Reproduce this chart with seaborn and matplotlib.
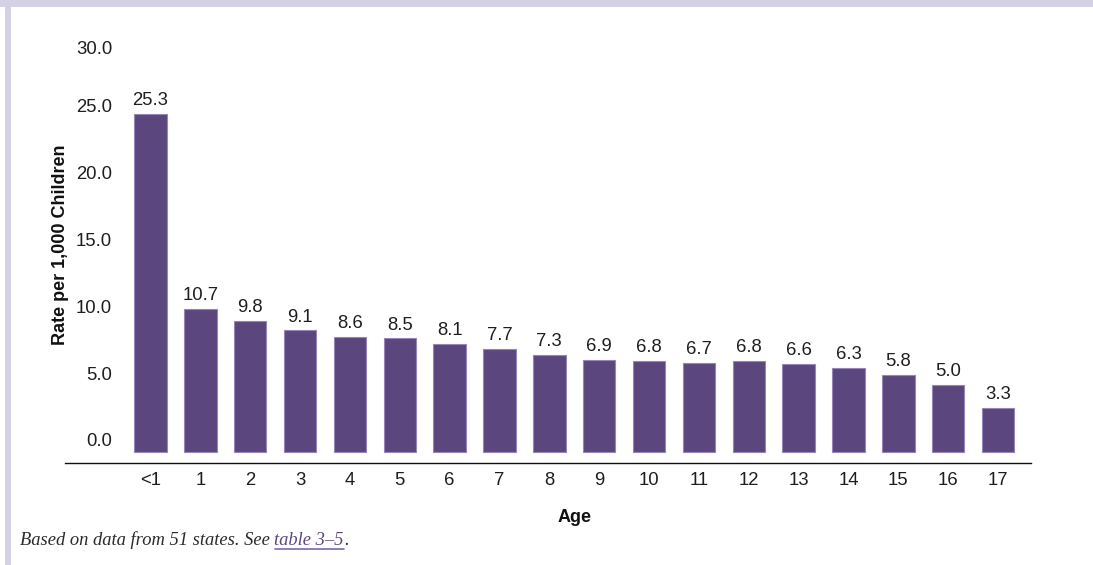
import matplotlib
matplotlib.use("Agg")
import matplotlib.pyplot as plt
import matplotlib.transforms as mtransforms
from matplotlib.patches import Rectangle
from matplotlib.lines import Line2D
import seaborn as sns
import pandas as pd

# Victimization rate by age of child
ages = ["<1", "1", "2", "3", "4", "5", "6", "7", "8", "9",
        "10", "11", "12", "13", "14", "15", "16", "17"]
rates = [25.3, 10.7, 9.8, 9.1, 8.6, 8.5, 8.1, 7.7, 7.3, 6.9,
         6.8, 6.7, 6.8, 6.6, 6.3, 5.8, 5.0, 3.3]
y_ticks = [0, 5, 10, 15, 20, 25, 30]

BAR = "#5b477d"
EDGE = "#9585b8"
TEXT = "#1e1e1e"
FRAME = "#d4d1e5"
FS = 13.3

sns.set_theme(style="white")
plt.rcParams["font.family"] = ["Liberation Sans", "DejaVu Sans"]

W, H, DPI = 1093, 565, 100
fig = plt.figure(figsize=(W / DPI, H / DPI), dpi=DPI)

# page frame: lavender band on top and on the left edge
fig.patches.append(Rectangle((0, 1 - 7 / H), 1, 7 / H, transform=fig.transFigure,
                             facecolor=FRAME, edgecolor="none", zorder=0))
fig.patches.append(Rectangle((5 / W, 0), 6 / W, 1 - 7 / H, transform=fig.transFigure,
                             facecolor=FRAME, edgecolor="none", zorder=0))

left, right, top, bottom = 65, 1031, 40, 463
ax = fig.add_axes([left / W, 1 - bottom / H, (right - left) / W, (bottom - top) / H])
ax.set_facecolor("none")

df = pd.DataFrame({"Age": ages, "Rate": rates})
sns.barplot(data=df, x="Age", y="Rate", order=ages, color=BAR, saturation=1,
            width=0.65, edgecolor=EDGE, linewidth=0.8, ax=ax)

ax.bar_label(ax.containers[0], labels=[f"{v:.1f}" for v in rates], padding=3.5,
             fontsize=FS, color=TEXT)

ax.set_ylim(-0.80, 30.79)
ax.set_xlim(-1.715, 17.66)

for s in ["top", "right", "left"]:
    ax.spines[s].set_visible(False)
ax.spines["bottom"].set_color("#111111")
ax.spines["bottom"].set_linewidth(1.0)

ax.set_yticks(y_ticks)
ax.set_yticklabels([f"{v:.1f}" for v in y_ticks])
ax.tick_params(axis="y", length=0, pad=0, labelsize=FS, labelcolor=TEXT)
ax.tick_params(axis="x", length=0, pad=6.5, labelsize=FS, labelcolor=TEXT)

# y tick labels sit inside the plot area, a little above their gridline level
for i, lab in enumerate(ax.get_yticklabels()):
    dy = 12.3 if i < len(y_ticks) - 1 else 3.5
    lab.set_transform(lab.get_transform() +
                      mtransforms.ScaledTranslation(47 / DPI, dy / DPI, fig.dpi_scale_trans))

ax.set_xlabel("Age", fontsize=13, fontweight="bold", color="#111111")
ax.xaxis.set_label_coords(0.527, -0.108)
ax.set_ylabel("Rate per 1,000 Children", fontsize=13, fontweight="bold", color="#111111")
ax.yaxis.set_label_coords(0.004, 0.515)

# footnote with underlined table reference
renderer = fig.canvas.get_renderer()
ident = mtransforms.IdentityTransform()
base_y = H - 545
note_kw = dict(fontsize=13.3, family=["Liberation Serif", "DejaVu Serif"],
               style="italic", va="baseline", transform=ident)
t1 = fig.text(20, base_y, "Based on data from 51 states. See ", color="#2b2b2b", **note_kw)
x1 = t1.get_window_extent(renderer).x1
t2 = fig.text(x1, base_y, "table 3\u20135", color="#5b477d", **note_kw)
bb2 = t2.get_window_extent(renderer)
fig.lines.append(Line2D([bb2.x0, bb2.x1], [base_y - 4, base_y - 4], transform=ident,
                        color="#7a6aa5", linewidth=1.2))
fig.text(bb2.x1, base_y, ".", color="#2b2b2b", **note_kw)

fig.savefig("out.png", dpi=DPI)
